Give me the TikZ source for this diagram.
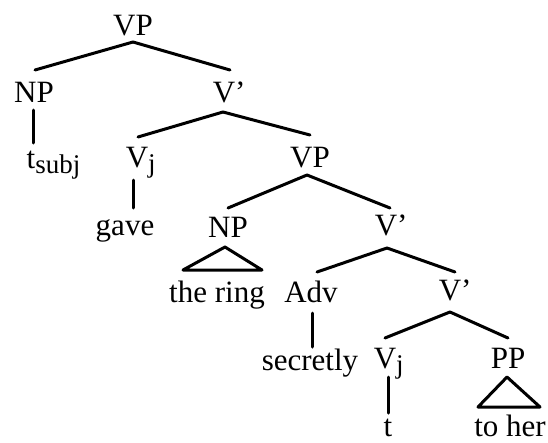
\documentclass[tikz,border=0pt]{standalone}
\usepackage{fontspec}
\setmainfont{Liberation Serif}
\newcommand{\subtxt}[1]{\rlap{\raisebox{-5pt}{\fontsize{27}{27}\selectfont #1}}}
\newcommand{\primed}{\rlap{’}}
\begin{document}
\begin{tikzpicture}[x=1pt,y=-1pt,
  lbl/.style={anchor=base,inner sep=0pt,font=\fontsize{31}{36}\selectfont},
  edge/.style={line width=3pt,line cap=round,line join=round}]
\useasboundingbox (0,0) rectangle (548,442);
% nodes
\node[lbl] (vpa) at (133,35) {VP};
\node[lbl] (npa) at (34,102) {NP};
\node[lbl] (vba) at (224,102) {V\primed};
\node[lbl] (tsubj) at (31,168) {t\subtxt{subj}};
\node[lbl] (vja) at (137,167) {V\subtxt{j}};
\node[lbl] (vpb) at (310,167) {VP};
\node[lbl] (gave) at (125,235) {gave};
\node[lbl] (npb) at (228,237) {NP};
\node[lbl] (vbb) at (386,235) {V\primed};
\node[lbl] (ring) at (217,302) {the ring};
\node[lbl] (adv) at (311,302) {Adv};
\node[lbl] (vbc) at (450,300) {V\primed};
\node[lbl] (secretly) at (310,370) {secretly};
\node[lbl] (vjb) at (385,368) {V\subtxt{j}};
\node[lbl] (pp) at (508,368) {PP};
\node[lbl,text depth=0pt] (t) at (388,436) {t};
\node[lbl,text depth=0pt] (toher) at (510,436) {to her};
% edges
\draw[edge] ([yshift=-7pt]vpa.base) -- ([xshift=1pt,yshift=32pt]npa.base);
\draw[edge] ([yshift=-7pt]vpa.base) -- ([xshift=6pt,yshift=32pt]vba.base);
\draw[edge] ([xshift=-1pt,yshift=-8pt]npa.base) -- ([xshift=2pt,yshift=25pt]tsubj.base);
\draw[edge] ([xshift=-1pt,yshift=-10pt]vba.base) -- ([xshift=1pt,yshift=30pt]vja.base);
\draw[edge] ([xshift=-1pt,yshift=-10pt]vba.base) -- ([yshift=32pt]vpb.base);
\draw[edge] ([xshift=-4pt,yshift=-13pt]vja.base) -- ([xshift=8pt,yshift=27pt]gave.base);
\draw[edge] ([xshift=-3pt,yshift=-8pt]vpb.base) -- ([yshift=29pt]npb.base);
\draw[edge] ([xshift=-3pt,yshift=-8pt]vpb.base) -- ([xshift=4pt,yshift=27pt]vbb.base);
\draw[edge] ([xshift=-3pt,yshift=-10pt]npb.base) -- ([xshift=-45pt,yshift=-33pt]npb.base)
  -- ([xshift=45pt,yshift=32pt]ring.base) -- cycle;
\draw[edge] ([xshift=1pt,yshift=-13pt]vbb.base) -- ([xshift=6pt,yshift=30pt]adv.base);
\draw[edge] ([xshift=1pt,yshift=-13pt]vbb.base) -- ([xshift=5pt,yshift=28pt]vbc.base);
\draw[edge] ([xshift=1pt,yshift=-11pt]adv.base) -- ([xshift=2pt,yshift=23pt]secretly.base);
\draw[edge] ([yshift=-12pt]vbc.base) -- ([yshift=30pt]vjb.base);
\draw[edge] ([yshift=-12pt]vbc.base) -- ([yshift=30pt]pp.base);
\draw[edge] ([xshift=3pt,yshift=-9pt]vjb.base) -- ([yshift=23pt]t.base);
\draw[edge] ([xshift=-1pt,yshift=-9pt]pp.base) -- ([xshift=-30pt,yshift=-39pt]pp.base)
  -- ([xshift=30pt,yshift=29pt]toher.base) -- cycle;
\end{tikzpicture}
\end{document}
